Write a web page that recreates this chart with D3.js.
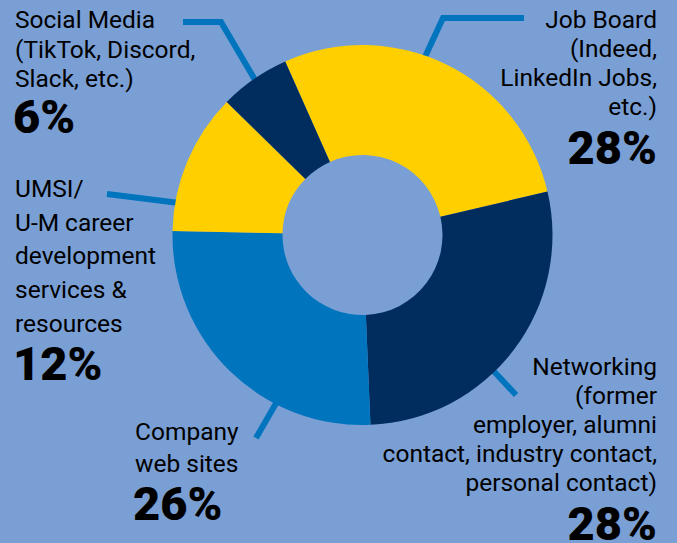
<!DOCTYPE html>
<html>
<head>
<meta charset="utf-8">
<script src="https://cdn.jsdelivr.net/npm/d3@7"></script>
<style>
  html, body { margin: 0; padding: 0; background: #7a9fd4; }
  svg { display: block; }
  .lbl { font-family: Roboto, "DejaVu Sans", sans-serif; font-size: 24.5px; fill: #000; }
  .pct { font-family: Roboto, "DejaVu Sans", sans-serif; font-size: 47px; font-weight: 900; fill: #000; }
</style>
</head>
<body>
<svg id="chart" width="677" height="543"></svg>
<script>
// data, clockwise from the top-left
const categories = ["Job Board", "Networking", "Company web sites", "UMSI/U-M career services", "Social Media"];
const shares = [28, 28, 26, 12, 6];
const labelLines = [
  ["Job Board", "(Indeed,", "LinkedIn Jobs,", "etc.)"],
  ["Networking", "(former", "employer, alumni", "contact, industry contact,", "personal contact)"],
  ["Company", "web sites"],
  ["UMSI/", "U-M career", "development", "services &", "resources"],
  ["Social Media", "(TikTok, Discord,", "Slack, etc.)"]
];
const sliceColors = ["#ffcf00", "#002d5e", "#0074bd", "#ffcf00", "#002d5e"];

const W = 677, H = 543;
const cx = 362.5, cy = 235, outerR = 190, innerR = 80;
const startDeg = -24;

// where each label block sits, and where its leader line goes
const layout = [
  { x: 657, anchor: "end",   y0: 28,  lh: 29,   pctY: 164, lineAt: 19,  path: [[443, 18], [524, 18]] },
  { x: 657, anchor: "end",   y0: 375, lh: 29,   pctY: 540, lineAt: 136, path: [[516, 395]] },
  { x: 135, anchor: "start", y0: 440, lh: 32,   pctY: 520, lineAt: 207, path: [[256, 438]] },
  { x: 15,  anchor: "start", y0: 197, lh: 33.7, pctY: 380, lineAt: 280, path: [[107, 194]] },
  { x: 15,  anchor: "start", y0: 28,  lh: 29.5, pctY: 133, lineAt: 325, path: [[221, 22], [183, 22]] }
];

const svg = d3.select("#chart");

svg.append("rect").attr("width", W).attr("height", H).attr("fill", "#7a9fd4");

function ringPoint(deg, r) {
  let a = deg * Math.PI / 180;
  return [cx + r * Math.sin(a), cy - r * Math.cos(a)];
}

function drawLeaders() {
  let line = d3.line();
  layout.forEach((l) => {
    let pts = [ringPoint(l.lineAt, outerR - 12)].concat(l.path);
    svg.append("path")
      .attr("d", line(pts))
      .attr("fill", "none")
      .attr("stroke", "#0074bd")
      .attr("stroke-width", 6);
  });
}

function drawDonut() {
  let pie = d3.pie()
    .sort(null)
    .value(d => d)
    .startAngle(startDeg * Math.PI / 180)
    .endAngle((startDeg + 360) * Math.PI / 180);

  let arc = d3.arc().innerRadius(innerR).outerRadius(outerR);

  svg.append("g")
    .attr("transform", `translate(${cx},${cy})`)
    .selectAll("path")
    .data(pie(shares))
    .join("path")
    .attr("d", arc)
    .attr("fill", (d, i) => sliceColors[i]);
}

function drawLabels() {
  categories.forEach((c, i) => {
    let l = layout[i];
    let t = svg.append("text")
      .attr("class", "lbl")
      .attr("text-anchor", l.anchor);
    labelLines[i].forEach((s, j) => {
      t.append("tspan").attr("x", l.x).attr("y", l.y0 + j * l.lh).text(s);
    });
    svg.append("text")
      .attr("class", "pct")
      .attr("text-anchor", l.anchor)
      .attr("x", l.anchor === "end" ? l.x : l.x - 2)
      .attr("y", l.pctY)
      .text(shares[i] + "%");
  });
}

drawLeaders();
drawDonut();
drawLabels();
</script>
</body>
</html>
